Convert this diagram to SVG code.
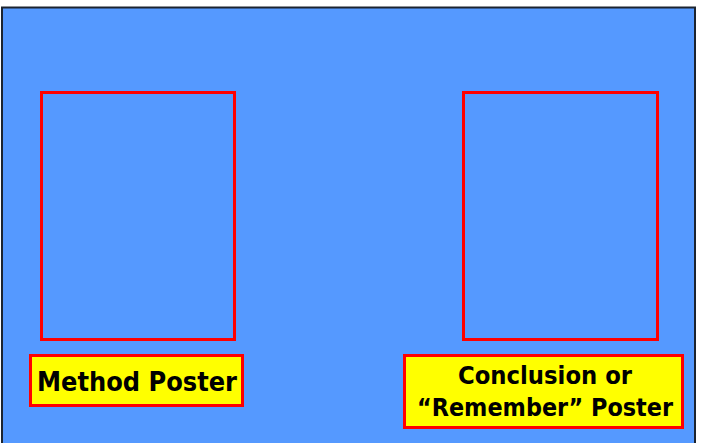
<svg xmlns="http://www.w3.org/2000/svg" width="702" height="443" viewBox="0 0 702 443">
<style>
.poster{fill:none;stroke:#ff0000;stroke-width:3}
.label{fill:#ffff00;stroke:#ff0000;stroke-width:3}
.t{font-family:"Comic Sans MS","DejaVu Sans",sans-serif;font-weight:bold;font-size:26px;fill:#000}
.s{font-size:24px}
</style>
<rect width="702" height="443" fill="#ffffff"/>
<rect x="2" y="7.5" width="693" height="440" fill="#5599ff" stroke="#1c2430" stroke-width="2"/>
<g id="method-poster">
<rect class="poster" x="41.5" y="92.5" width="193" height="247"/>
</g>
<g id="conclusion-poster">
<rect class="poster" x="463.5" y="92.5" width="194" height="247"/>
</g>
<g id="method-label">
<rect class="label" x="30.5" y="355.5" width="212" height="50"/>
<text class="t" x="37" y="391" textLength="200" lengthAdjust="spacingAndGlyphs">Method Poster</text>
</g>
<g id="conclusion-label">
<rect class="label" x="404.5" y="355.5" width="278" height="72"/>
<text class="t s" x="458" y="384" textLength="174" lengthAdjust="spacingAndGlyphs">Conclusion or</text>
<text class="t s" x="417" y="416" textLength="256" lengthAdjust="spacingAndGlyphs">“Remember” Poster</text>
</g>
<g id="connectors"/>
</svg>
